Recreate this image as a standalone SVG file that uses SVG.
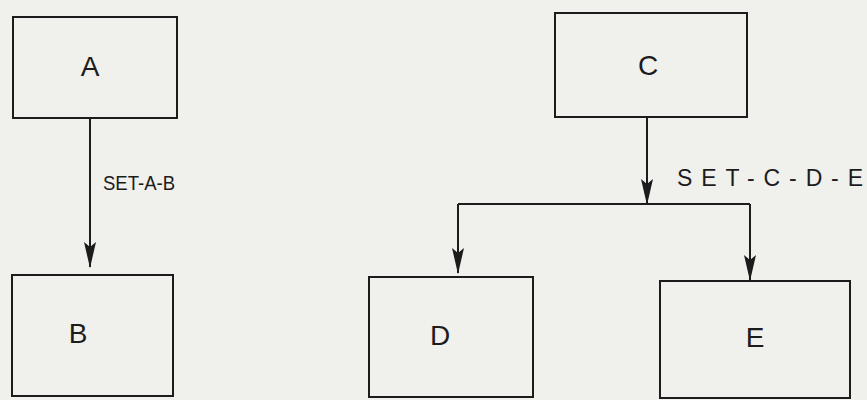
<svg xmlns="http://www.w3.org/2000/svg" width="867" height="400" viewBox="0 0 867 400">
  <defs>
    <style>
      .box { fill: none; stroke: #1c1c1c; stroke-width: 2; }
      .wire { fill: none; stroke: #1c1c1c; stroke-width: 2; }
      .tag { font-family: "Liberation Sans", Arial, sans-serif; fill: #1c1c1c; }
      .name { font-size: 28px; text-anchor: middle; }
      .lbl { font-size: 21px; }
      .lbl-wide { font-size: 23px; }
    </style>
    <!-- narrow filled arrowhead, drawn along +x so orient="auto" points it down the wire -->
    <marker id="head" markerWidth="26" markerHeight="12" refX="25" refY="6" orient="auto" markerUnits="userSpaceOnUse" viewBox="0 0 26 12">
      <path d="M0,0 L5,6 L0,12 L26,6 Z" fill="#1c1c1c"/>
    </marker>
  </defs>

  <rect width="867" height="400" fill="#f0f0ec"/>

  <g id="node-A">
    <rect class="box" x="13" y="17" width="164" height="101"/>
    <text class="tag name" x="90" y="76">A</text>
  </g>

  <g id="node-B">
    <rect class="box" x="12" y="275" width="161" height="121"/>
    <text class="tag name" x="78" y="343">B</text>
  </g>

  <g id="node-C">
    <rect class="box" x="555" y="13" width="192" height="104"/>
    <text class="tag name" x="648" y="75">C</text>
  </g>

  <g id="node-D">
    <rect class="box" x="369" y="277" width="164" height="120"/>
    <text class="tag name" x="440" y="345">D</text>
  </g>

  <g id="node-E">
    <rect class="box" x="660" y="281" width="190" height="117"/>
    <text class="tag name" x="755" y="347">E</text>
  </g>

  <g id="connectors">
    <line class="wire" x1="90" y1="118" x2="90" y2="267" marker-end="url(#head)"/>
    <text class="tag lbl" x="103" y="190" textLength="72" lengthAdjust="spacingAndGlyphs">SET-A-B</text>

    <line class="wire" x1="647" y1="117" x2="647" y2="204" marker-end="url(#head)"/>
    <line class="wire" x1="458" y1="204" x2="750" y2="204"/>
    <line class="wire" x1="458" y1="204" x2="458" y2="273" marker-end="url(#head)"/>
    <line class="wire" x1="750" y1="204" x2="750" y2="280" marker-end="url(#head)"/>
    <text class="tag lbl-wide" x="677" y="186" textLength="186" lengthAdjust="spacing">SET-C-D-E</text>
  </g>
</svg>
